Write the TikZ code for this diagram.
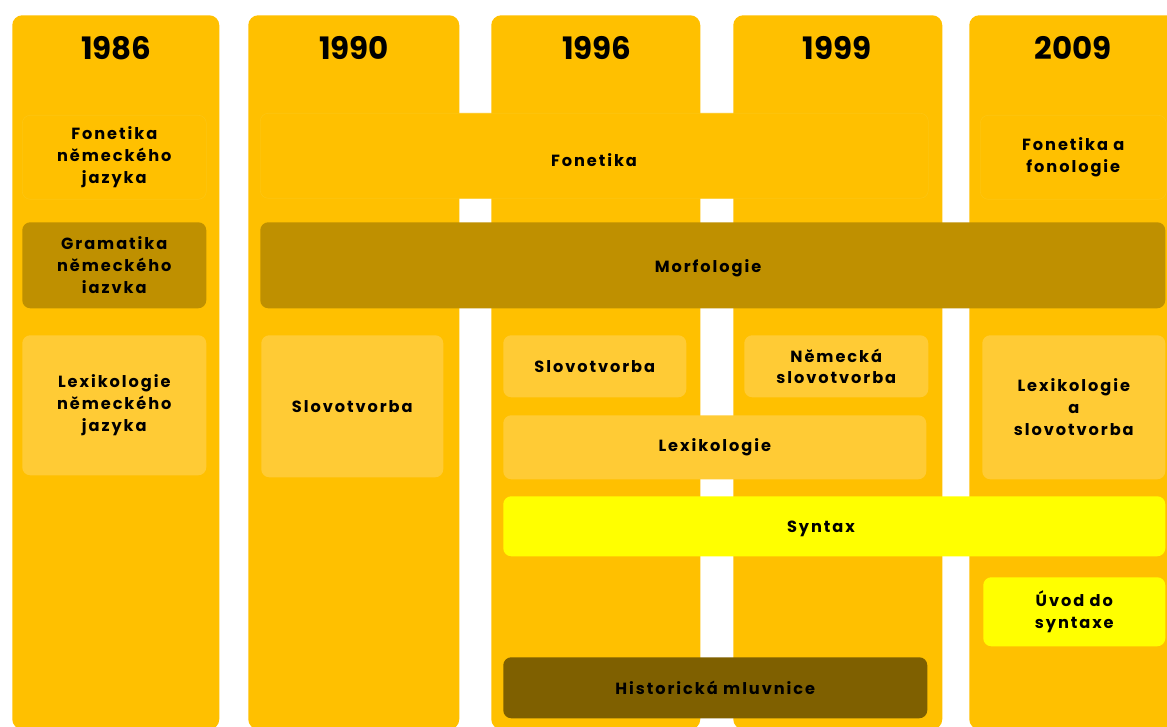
\documentclass[tikz,border=0pt]{standalone}
\usepackage{fontspec}
\setmainfont{Poppins}
\newfontfamily\boxfont{Poppins}[LetterSpace=12]
\newlength\unitpx
\setlength\unitpx{0.025cm}
\definecolor{colOrange}{HTML}{FFC000}
\definecolor{lightBox}{HTML}{FFCB35}
\definecolor{darkGold}{HTML}{BF9000}
\definecolor{deepBrown}{HTML}{7F6000}
\definecolor{brightYellow}{HTML}{FFFF00}
\definecolor{faintEdge}{HTML}{FDC512}
\begin{document}
\begin{tikzpicture}[x=0.025cm,y=-0.025cm,
	column/.style={shape=rectangle,fill=colOrange,rounded corners=10\unitpx,anchor=north west,inner sep=0pt},
	year/.style={font=\bfseries\fontsize{22}{26}\selectfont},
	label text/.style={font=\boxfont\bfseries\fontsize{11.5}{15.5}\selectfont},
	topic/.style={shape=rectangle,rounded corners=8\unitpx,anchor=north west,inner sep=0pt,align=center,label text},
	faint/.style={topic,fill=colOrange,draw=faintEdge},
	light/.style={topic,fill=lightBox},
	dark/.style={topic,fill=darkGold},
	brownish/.style={topic,fill=deepBrown},
	yellow/.style={topic,fill=brightYellow}]
	\useasboundingbox (0,0) rectangle (1167,727);
	\fill[white] (0,0) rectangle (1167,727);
	% columns
	\node (col1986) at (12,15)[column,minimum width=207\unitpx,minimum height=714\unitpx] {};
	\node (col1990) at (248,15)[column,minimum width=211\unitpx,minimum height=714\unitpx] {};
	\node (col1996) at (491,15)[column,minimum width=209\unitpx,minimum height=714\unitpx] {};
	\node (col1999) at (733,15)[column,minimum width=209\unitpx,minimum height=714\unitpx] {};
	\node (col2009) at (969,15)[column,minimum width=210\unitpx,minimum height=714\unitpx] {};

	\node (y1986) at (116.5,48)[year] {1986};
	\node (y1990) at (354,48)[year] {1990};
	\node (y1996) at (597,48)[year] {1996};
	\node (y1999) at (837,48)[year] {1999};
	\node (y2009) at (1073,48)[year] {2009};

	% phonetics
	\node (fon1986) at (22,115)[faint,minimum width=184\unitpx,minimum height=84\unitpx] {Fonetika\\německého\\jazyka};
	\node (fonBand) at (260,113)[faint,minimum width=668\unitpx,minimum height=85\unitpx] {};
	\node (fonText) at (594,160)[label text] {Fonetika};
	\node (fon2009) at (980,115)[faint,minimum width=186\unitpx,minimum height=84\unitpx] {Fonetika a\\fonologie};

	% morphology
	\node (gram1986) at (22,222)[dark,minimum width=184\unitpx,minimum height=86\unitpx] {Gramatika\\německého\\iazvka};
	\node (morf) at (260,222)[dark,minimum width=905\unitpx,minimum height=86\unitpx] {};
	\node (morfText) at (708,268)[label text] {Morfologie};

	% lexicology, word formation
	\node (lex1986) at (22,335)[light,minimum width=184\unitpx,minimum height=140\unitpx] {Lexikologie\\německého\\jazyka};
	\node (slov1990) at (261,335)[light,minimum width=182\unitpx,minimum height=142\unitpx] {Slovotvorba};
	\node (slov1996) at (503,335)[light,minimum width=183\unitpx,minimum height=62\unitpx] {Slovotvorba};
	\node (slov1999) at (744,335)[light,minimum width=184\unitpx,minimum height=62\unitpx] {Německá\\slovotvorba};
	\node (lexBand) at (503,415)[light,minimum width=423\unitpx,minimum height=64\unitpx] {Lexikologie};
	\node (lex2009) at (982,335)[light,minimum width=183\unitpx,minimum height=144\unitpx] {Lexikologie\\a\\slovotvorba};

	% syntax, history
	\node (synBand) at (503,496)[yellow,minimum width=662\unitpx,minimum height=60\unitpx] {};
	\node (synText) at (821,529)[label text] {Syntax};
	\node (uvod2009) at (983,577)[yellow,minimum width=182\unitpx,minimum height=69\unitpx] {Úvod do\\syntaxe};
	\node (histBand) at (503,657)[brownish,minimum width=424\unitpx,minimum height=61\unitpx] {Historická mluvnice};
\end{tikzpicture}
\end{document}
